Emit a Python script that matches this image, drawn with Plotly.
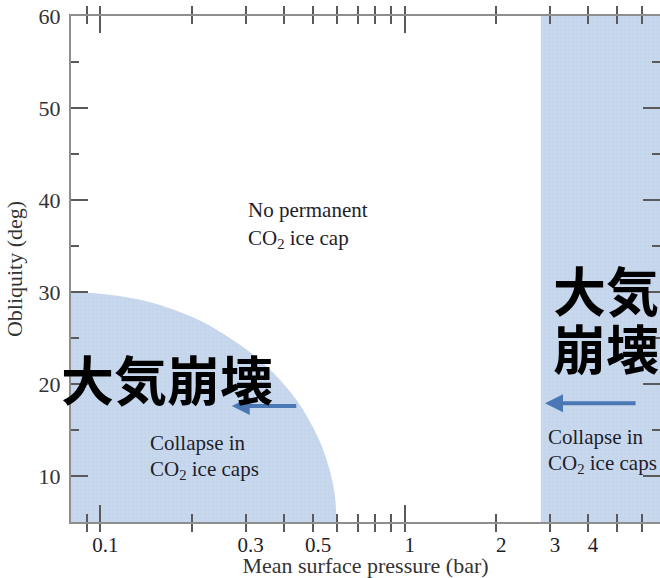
import numpy as np
import plotly.graph_objects as go

# Axis limits
p_range = [0.08, 6.9]      # mean surface pressure (bar)
obl_range = [5, 60]        # obliquity (deg)

# Boundary of the low-pressure collapse region
collapse_p = [0.0797, 0.107, 0.145, 0.212, 0.266, 0.309, 0.360, 0.419,
              0.469, 0.525, 0.566, 0.588, 0.597]
collapse_obl = [30.0, 29.7, 28.9, 26.9, 25.0, 23.5, 21.6, 19.2,
                16.9, 13.8, 10.7, 8.1, 5.0]

# High-pressure collapse region begins at this pressure
high_p_start = 2.8

# Tick positions / labels
x_ticks = [0.09, 0.1, 0.2, 0.3, 0.4, 0.5, 0.6, 0.7, 0.8, 0.9, 1, 2, 3, 4, 5, 6]
x_labels = ["", "0.1", "", "0.3", "", "0.5", "", "", "", "", "1", "2", "3", "4", "", ""]
x_major = [0.1, 1]
y_ticks = [10, 15, 20, 25, 30, 35, 40, 45, 50, 55, 60]
y_labels = ["10", "", "20", "", "30", "", "40", "", "50", "", "60"]
y_major = [10, 20, 30, 40, 50, 60]

SERIF = "Liberation Serif"
TEXT = "#1e1e2a"
FILL = "#c8d9ee"
GRID = "#b2c7e2"
ARROW = "#4a78b5"
LINE = "#8e8e8e"
TICK = "#5a5a5a"

fig = go.Figure()

pattern = dict(shape="+", size=4, solidity=0.12, fgcolor=GRID, bgcolor=FILL, fillmode="replace")

# low-pressure collapse region (closed toward the lower-left corner)
lo_x = [0.05] + collapse_p + [collapse_p[-1], 0.05]
lo_y = [collapse_obl[0]] + collapse_obl + [0, 0]
fig.add_trace(go.Scatter(
    x=lo_x, y=lo_y, mode="lines", fill="toself",
    line=dict(width=0, color=FILL, shape="spline", smoothing=1.0),
    fillcolor=FILL, fillpattern=pattern, hoverinfo="skip", showlegend=False))

# high-pressure collapse region
fig.add_trace(go.Scatter(
    x=[high_p_start, 20, 20, high_p_start], y=[0, 0, 80, 80],
    mode="lines", fill="toself", line=dict(width=0, color=FILL),
    fillcolor=FILL, fillpattern=pattern, hoverinfo="skip", showlegend=False))

lx = [np.log10(v) for v in p_range]

fig.update_layout(
    width=660, height=578,
    margin=dict(l=71, r=0, t=16, b=56),
    paper_bgcolor="white", plot_bgcolor="white",
    showlegend=False,
    xaxis=dict(
        type="log", range=lx, showgrid=False, zeroline=False,
        showline=True, linecolor=LINE, linewidth=2, mirror="allticks",
        ticks="inside", ticklen=8, tickwidth=1.5, tickcolor=TICK,
        tickvals=x_ticks, ticktext=x_labels,
        tickfont=dict(family=SERIF, size=21, color=TEXT),
        ticklabelshift=5, ticklabelstandoff=3,
        title=dict(text="Mean surface pressure (bar)", standoff=4,
                   font=dict(family=SERIF, size=22, color="#333333")),
    ),
    xaxis2=dict(
        type="log", range=lx, overlaying="x", anchor="y", side="bottom",
        showgrid=False, zeroline=False, showline=False, mirror="allticks",
        ticks="inside", ticklen=17, tickwidth=1.5, tickcolor=TICK,
        tickvals=x_major, showticklabels=False,
    ),
    yaxis=dict(
        range=obl_range, showgrid=False, zeroline=False,
        showline=True, linecolor=LINE, linewidth=2, mirror=False,
        ticks="inside", ticklen=8, tickwidth=1.5, tickcolor=TICK,
        tickvals=y_ticks, ticktext=y_labels,
        tickfont=dict(family=SERIF, size=22, color="#333333"),
        ticklabelstandoff=4,
        title=dict(text="Obliquity (deg)", standoff=10,
                   font=dict(family=SERIF, size=22, color="#333333")),
    ),
    yaxis2=dict(
        range=obl_range, overlaying="y", anchor="x", side="right",
        showgrid=False, zeroline=False, showline=False,
        ticks="inside", ticklen=8, tickwidth=1.5, tickcolor=TICK,
        tickvals=y_ticks, showticklabels=False,
    ),
    yaxis3=dict(
        range=obl_range, overlaying="y", anchor="x", side="left",
        showgrid=False, zeroline=False, showline=False, mirror="allticks",
        ticks="inside", ticklen=17, tickwidth=1.5, tickcolor=TICK,
        tickvals=y_major, showticklabels=False,
    ),
)

# invisible anchors so the overlay axes belong to subplots
fig.add_trace(go.Scatter(x=[1], y=[30], xaxis="x2", yaxis="y2", mode="markers",
                         marker=dict(opacity=0), hoverinfo="skip", showlegend=False))
fig.add_trace(go.Scatter(x=[1], y=[30], xaxis="x", yaxis="y3", mode="markers",
                         marker=dict(opacity=0), hoverinfo="skip", showlegend=False))

serif_font = dict(family=SERIF, size=21, color=TEXT)

def label(text, x, y):
    fig.add_annotation(x=np.log10(x), y=y, xref="x", yref="y", text=text,
                       showarrow=False, xanchor="left", yanchor="middle",
                       font=serif_font)

label("No permanent", 0.30, 38.9)
label("CO<sub>2</sub> ice cap", 0.30, 35.8)
label("Collapse in", 0.143, 13.6)
label("CO<sub>2</sub> ice caps", 0.143, 10.7)
label("Collapse in", 2.92, 14.2)
label("CO<sub>2</sub> ice caps", 2.92, 11.3)

# arrows pointing toward lower pressure
for tail, head, yv in [(0.445, 0.27, 17.6), (5.8, 2.89, 17.9)]:
    fig.add_annotation(x=np.log10(head), y=yv, ax=np.log10(tail), ay=yv,
                       xref="x", yref="y", axref="x", ayref="y",
                       text="", showarrow=True, arrowhead=2, arrowsize=0.9,
                       arrowwidth=4, arrowcolor=ARROW, standoff=0)

cjk = dict(family="Noto Sans CJK JP", size=53, color="black")
fig.add_annotation(x=np.log10(0.165), y=20.6, xref="x", yref="y",
                   text="<b>大気崩壊</b>", showarrow=False, font=cjk)
fig.add_annotation(x=np.log10(4.58), y=30.3, xref="x", yref="y",
                   text="<b>大気</b>", showarrow=False, font=cjk)
fig.add_annotation(x=np.log10(4.58), y=24.0, xref="x", yref="y",
                   text="<b>崩壊</b>", showarrow=False, font=cjk)

fig.write_html("out.html")
